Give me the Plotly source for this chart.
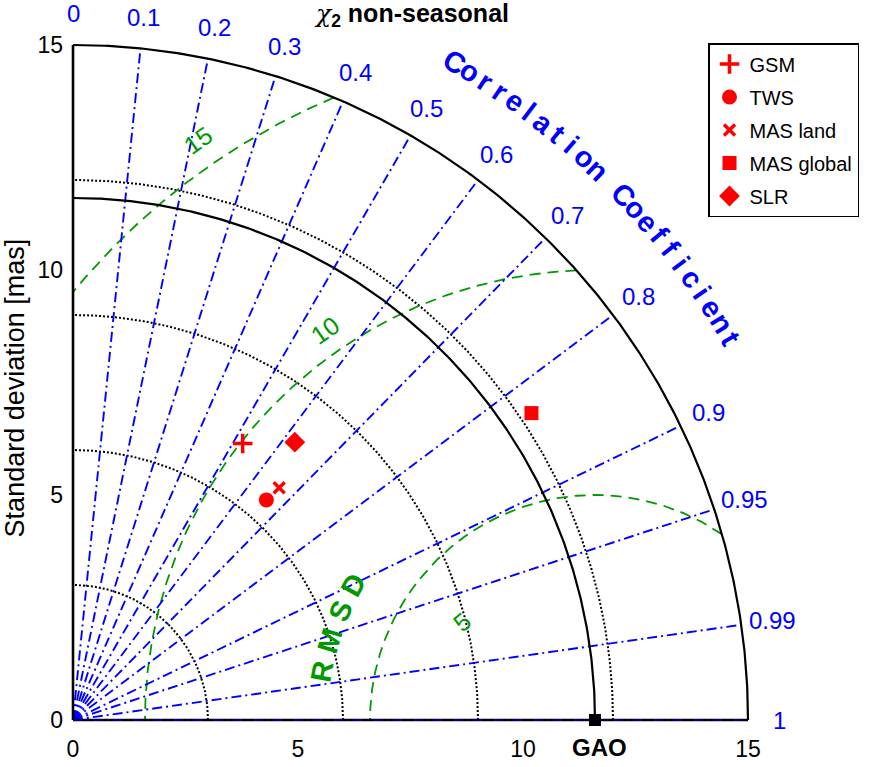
import numpy as np
import plotly.graph_objects as go

# ---------------- data ----------------
model_names = ["GSM", "TWS", "MAS land", "MAS global", "SLR"]
model_std = [7.21, 6.51, 6.90, 12.26, 7.90]
model_corr = [0.523, 0.660, 0.664, 0.831, 0.624]
ref_name = "GAO"
ref_std = 11.6

corr_ticks = [0, 0.1, 0.2, 0.3, 0.4, 0.5, 0.6, 0.7, 0.8, 0.9, 0.95, 0.99, 1]
corr_tick_labels = ["0", "0.1", "0.2", "0.3", "0.4", "0.5", "0.6", "0.7", "0.8", "0.9", "0.95", "0.99", "1"]
std_grid = [3, 6, 9, 12]
std_ticks = [0, 5, 10, 15]
std_max = 15
rmsd_levels = [5, 10, 15]
rmsd_label_text = ["5", "10", "15"]

# ---------------- styles / layout ----------------
BLUE = "rgb(0,0,255)"
GREEN = "rgb(0,153,0)"
RED = "rgb(255,0,0)"
model_symbols = ["cross-thin", "circle", "x-thin", "square", "diamond"]
model_sizes = [14, 15, 11, 14, 16]

ML, MR, MT, MB = 64, 46, 22, 38
W, H = 896, 767
PPU = 45.0
XR = [-0.2, -0.2 + (W - ML - MR) / PPU]
YR = [-0.2, -0.2 + (H - MT - MB) / PPU]


def P(x, y):
    return (x - XR[0]) / (XR[1] - XR[0]), (y - YR[0]) / (YR[1] - YR[0])


fig = go.Figure()


def add_line(x, y, color, width, dash="solid"):
    fig.add_trace(go.Scatter(x=x, y=y, mode="lines", showlegend=False, hoverinfo="skip",
                             line=dict(color=color, width=width, dash=dash)))


BDASH = "10px,4px,2px,4px"
t = np.linspace(0, np.pi / 2, 300)
# std dotted arcs
for s in std_grid:
    add_line(s * np.cos(t), s * np.sin(t), "black", 2, "2px,2px")

# RMSD contours
phi = np.linspace(0, np.pi, 3000)
for rr in rmsd_levels:
    x = ref_std + rr * np.cos(phi)
    y = rr * np.sin(phi)
    m = (x >= 0) & (x ** 2 + y ** 2 <= std_max ** 2)
    add_line(x[m], y[m], GREEN, 1.8, "11px,7px")

# correlation rays
for c in corr_ticks[1:-1]:
    add_line([0, std_max * c], [0, std_max * np.sqrt(1 - c ** 2)], BLUE, 1.9, BDASH)

# reference std arc, outer arc, axes
add_line(ref_std * np.cos(t), ref_std * np.sin(t), "black", 2.2)
add_line(std_max * np.cos(t), std_max * np.sin(t), "black", 2.2)
add_line([0, 0], [0, std_max], "black", 2.6)
add_line([0, std_max], [0, 0], "black", 2.6)
add_line([0, std_max], [0, 0], BLUE, 1.2, BDASH)

# models
for i, name in enumerate(model_names):
    c = model_corr[i]
    s = model_std[i]
    sym = model_symbols[i]
    thin = sym.endswith("-thin")
    fig.add_trace(go.Scatter(
        x=[s * c], y=[s * np.sqrt(1 - c ** 2)], mode="markers", name=name,
        legendgroup=name,
        marker=dict(symbol=sym, size=model_sizes[i], color=RED,
                    line=dict(color=RED, width=3.5 if thin else 0)),
        cliponaxis=False))

# reference point
fig.add_trace(go.Scatter(x=[ref_std], y=[0], mode="markers", showlegend=False,
                         marker=dict(symbol="square", size=12, color="black"), cliponaxis=False))

ann = []


def add_ann(x, y, text, size, color, angle=0, xanchor="center", yanchor="middle"):
    px, py = P(x, y)
    ann.append(dict(x=px, y=py, xref="paper", yref="paper", text=text, showarrow=False,
                    textangle=angle, font=dict(size=size, color=color),
                    xanchor=xanchor, yanchor=yanchor))


# correlation tick labels
R = 15.7
for c, lab in zip(corr_ticks, corr_tick_labels):
    add_ann(R * c, R * np.sqrt(1 - c ** 2), lab, 24, BLUE)

# "Correlation Coefficient" along arc
title_c = "Correlation Coefficient"
angs = np.linspace(59.9, 30.1, len(title_c))
for ch, a in zip(title_c, angs):
    if ch == " ":
        continue
    ar = np.radians(a)
    add_ann(16.9 * np.cos(ar), 16.9 * np.sin(ar), "<b>%s</b>" % ch, 29, BLUE, 90 - a)

# "RMSD" along arc around reference
rm_angles = [169.9, 163.4, 156.8, 150.8]
for ch, a in zip("RMSD", rm_angles):
    ar = np.radians(a)
    add_ann(ref_std + 6.15 * np.cos(ar), 6.15 * np.sin(ar), "<b>%s</b>" % ch, 29, GREEN, 90 - a)

# RMSD contour labels (positions in std units)
rl_x = [8.64, 5.60, 2.78]
rl_y = [2.18, 8.67, 12.89]
rl_rot = [-40, -35, -35]
for lab, x, y, r in zip(rmsd_label_text, rl_x, rl_y, rl_rot):
    add_ann(x, y, lab, 25, GREEN, r)

# reference label
add_ann(ref_std + 0.1, -0.62, "<b>%s</b>" % ref_name, 24, "black")
# y label
add_ann(-1.3, 7.38, "Standard deviation [mas]", 27, "black", -90)
# title
add_ann(7.53, 15.66, "<span style=\"font-family:'DejaVu Serif'\"><i>χ</i></span><sub><b>2</b></sub> <b>non-seasonal</b>",
        25, "black")

fig.update_layout(
    width=W, height=H, autosize=False,
    margin=dict(l=ML, r=MR, t=MT, b=MB, autoexpand=False),
    plot_bgcolor="white", paper_bgcolor="white",
    font=dict(family="Liberation Sans, Arial, sans-serif", color="black"),
    annotations=ann,
    showlegend=True,
    legend=dict(x=(708 - ML) / (W - ML - MR), y=(H - MB - 43) / (H - MT - MB), xanchor="left", yanchor="top",
                bordercolor="black", borderwidth=1.5, bgcolor="white",
                font=dict(size=20, color="black"), tracegroupgap=4),
    xaxis=dict(range=XR, showgrid=False, zeroline=False, showline=False, automargin=False,
               tickvals=std_ticks, ticktext=[str(v) for v in std_ticks], ticks="",
               ticklabelstandoff=4, tickfont=dict(size=23, color="black")),
    yaxis=dict(range=YR, showgrid=False, zeroline=False, showline=False, automargin=False,
               tickvals=std_ticks, ticktext=[str(v) for v in std_ticks], ticks="",
               tickfont=dict(size=23, color="black")),
)

fig.write_html("out.html", config={"displayModeBar": False},
               post_script="document.body.style.margin='0';document.body.style.padding='0';"
                           "document.body.style.overflow='hidden';")
